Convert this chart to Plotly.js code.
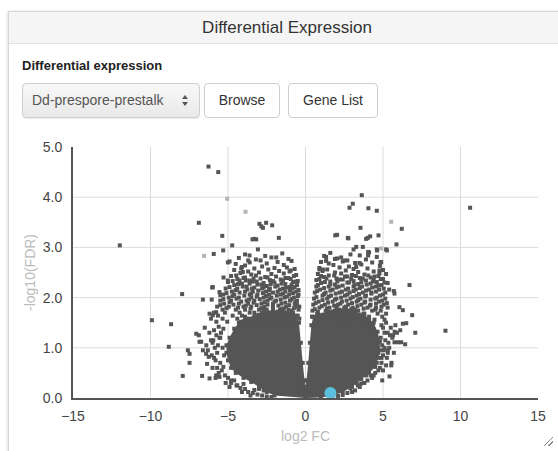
<!DOCTYPE html>
<html>
<head>
<meta charset="utf-8">
<script src="https://cdn.plot.ly/plotly-3.0.1.min.js"></script>
<style>
  html, body { margin:0; padding:0; width:558px; height:451px; overflow:hidden; background:#fff;
    font-family:"Liberation Sans", Arial, Helvetica, sans-serif; }
  #panel { position:absolute; left:8px; top:11px; width:556px; height:460px; border:1px solid #d6d6d6;
    box-shadow:-1px 0 2px rgba(0,0,0,0.12); background:#fff; }
  #hdr { position:absolute; left:0; top:0; right:0; height:31px; background:#f5f5f5; border-bottom:1px solid #e2e2e2;
    text-align:center; line-height:32px; font-size:17px; color:#333; }
  #lbl { position:absolute; left:13px; top:46px; font-size:13px; font-weight:bold; color:#222; }
  #sel { position:absolute; left:13px; top:71px; width:167px; height:33px; border:1px solid #cfcfcf; border-radius:4px;
    background:linear-gradient(#f8f8f8,#e9e9e9); box-shadow:0 1px 1px rgba(0,0,0,0.08);
    font-size:14px; color:#555; line-height:33px; padding-left:9px; }
  #sel .arr { position:absolute; right:9px; top:10px; width:8px; height:14px; }
  #sel .arr i { position:absolute; left:0; width:0; height:0; border-left:3px solid transparent; border-right:3px solid transparent; }
  #sel .arr i.u { top:1px; border-bottom:4px solid #555; }
  #sel .arr i.d { top:8px; border-top:4px solid #555; }
  .btn { position:absolute; top:71px; height:33px; border:1px solid #cfcfcf; border-radius:4px; background:#fff;
    font-size:14px; color:#333; line-height:33px; text-align:center; }
  #b1 { left:195px; width:74px; }
  #b2 { left:279px; width:88px; }
  #plot { position:absolute; left:0; top:0; width:558px; height:451px; }
  #grip { position:absolute; left:544px; top:437px; width:9px; height:9px;
    background:linear-gradient(135deg, transparent 45%, #888 45%, #888 55%, transparent 55%, transparent 70%, #888 70%, #888 80%, transparent 80%); }
</style>
</head>
<body>
<div id="panel">
  <div id="hdr">Differential Expression</div>
  <div id="lbl">Differential expression</div>
  <div id="sel">Dd-prespore-prestalk<span class="arr"><i class="u"></i><i class="d"></i></span></div>
  <div class="btn" id="b1">Browse</div>
  <div class="btn" id="b2">Gene List</div>
</div>
<div id="plot"></div>
<div id="grip"></div>
<script>
// Genes on the edge of the solid core, in outline order (log2 FC / -log10(FDR))
var coreX = [0,-2.0,-2.5,-3.0,-3.5,-4.0,-4.5,-4.8,-5.0,-5.1,-5.1,-4.9,-4.6,-4.3,-3.9,-3.6,-3.3,-3.0,-2.7,-2.4,-2.1,-1.8,-1.5,-1.2,-0.9,-0.6,-0.42,-0.3,-0.18,-0.06,0,
             0.06,0.18,0.28,0.38,0.5,0.8,1.1,1.4,1.7,2.0,2.3,2.6,2.9,3.2,3.5,3.8,4.1,4.4,4.65,4.8,4.8,4.7,4.5,4.1,3.6,3.0,2.4,1.8,1.0,0];
var coreY = [0,0.05,0.12,0.22,0.32,0.4,0.5,0.6,0.75,0.9,1.05,1.2,1.38,1.5,1.62,1.58,1.7,1.66,1.76,1.7,1.78,1.72,1.78,1.7,1.74,1.64,1.5,1.1,0.7,0.35,0.22,
             0.35,0.7,1.1,1.45,1.62,1.72,1.66,1.78,1.72,1.8,1.74,1.8,1.72,1.76,1.66,1.68,1.56,1.5,1.32,1.12,0.95,0.8,0.62,0.5,0.38,0.22,0.12,0.05,0.01,0];

// Speckled band above the left lobe
var bandLX = [
 -3.9,-2.6,-1.5,
 -4.3,-3.2,-2.2,-1.1,
 -3.6,-2.9,-1.8,-0.9,
 -4.5,-3.9,-2.5,-1.4,
 -4.1,-3.3,-2.8,-2.0,-1.2,-0.7,
 -4.6,-3.7,-2.4,-1.7,-0.95,
 -4.2,-3.5,-3.0,-2.2,-1.4,-0.6,
 -4.8,-3.9,-3.2,-2.6,-1.9,-1.1,-0.75,
 -4.4,-3.6,-2.9,-2.3,-1.6,-0.5,
 -5.0,-4.1,-3.4,-2.7,-2.0,-1.3,-0.8,
 -4.6,-3.8,-3.1,-2.5,-1.8,-1.0,-0.55,
 -5.15,-4.4,-3.45,-2.8,-2.3,-1.45,-0.85,
 -4.75,-3.9,-3.4,-2.55,-1.8,-1.3,-0.6,
 -5.3,-4.6,-3.6,-3.1,-2.35,-1.6,-1.05,-0.45,
 -4.95,-4.3,-3.5,-2.7,-2.2,-1.35,-0.75,
 -5.5,-4.8,-3.8,-3.3,-2.45,-1.9,-1.0,-0.55,
 -5.25,-4.3,-3.7,-2.85,-2.1,-1.55,-0.7,
 -5.7,-4.95,-4.0,-3.5,-2.65,-2.1,-1.25,-0.65,-0.4,
 -5.35,-4.5,-3.9,-3.0,-2.5,-1.65,-1.1,-0.45,
 -5.9,-5.2,-4.25,-3.6,-2.8,-2.25,-1.4,-0.8,
 -5.65,-4.7,-4.1,-3.25,-2.7,-1.85,-1.25,-0.5,
 -6.1,-5.35,-4.4,-3.8,-2.95,-2.4,-1.55,-0.95,-0.4,
 -5.75,-5.05,-4.15,-3.6,-2.7,-2.1,-1.3,-0.7,
 // second layer
 -4.0,-3.35,-2.45,-1.3,-0.95,
 -4.7,-3.85,-3.15,-2.1,-1.45,-0.65,
 -4.35,-3.6,-2.85,-2.25,-1.55,-0.9,
 -4.9,-4.05,-3.3,-2.7,-1.95,-1.25,-0.7,
 -4.5,-3.75,-3.05,-2.35,-1.65,-1.0,-0.45,
 -5.1,-4.25,-3.5,-2.75,-2.1,-1.45,-0.8,
 -4.7,-3.95,-3.15,-2.55,-1.85,-1.2,-0.5,
 -5.3,-4.45,-3.65,-2.95,-2.3,-1.6,-0.9,
 -4.9,-4.15,-3.35,-2.65,-2.0,-1.3,-0.65,
 -5.5,-4.65,-3.85,-3.15,-2.45,-1.75,-1.05,-0.55,
 -5.1,-4.35,-3.55,-2.85,-2.1,-1.4,-0.75
];
var bandLY = [
 2.86,2.83,2.88,
 2.79,2.76,2.8,2.77,
 2.7,2.74,2.71,2.73,
 2.67,2.64,2.68,2.65,
 2.61,2.58,2.62,2.59,2.6,2.57,
 2.55,2.52,2.56,2.53,2.54,
 2.49,2.46,2.5,2.47,2.48,2.45,
 2.43,2.4,2.44,2.41,2.42,2.39,2.43,
 2.37,2.34,2.38,2.35,2.36,2.33,
 2.31,2.28,2.32,2.29,2.3,2.27,2.31,
 2.25,2.22,2.26,2.23,2.24,2.21,2.25,
 2.18,2.18,2.18,2.18,2.18,2.18,2.18,
 2.12,2.12,2.12,2.12,2.12,2.12,2.12,
 2.06,2.06,2.06,2.06,2.06,2.06,2.06,2.06,
 2.0,2.0,2.0,2.0,2.0,2.0,2.0,
 1.94,1.94,1.94,1.94,1.94,1.94,1.94,1.94,
 1.88,1.88,1.88,1.88,1.88,1.88,1.88,
 1.82,1.82,1.82,1.82,1.82,1.82,1.82,1.82,1.82,
 1.76,1.76,1.76,1.76,1.76,1.76,1.76,1.76,
 1.7,1.7,1.7,1.7,1.7,1.7,1.7,1.7,
 1.64,1.64,1.64,1.64,1.64,1.64,1.64,1.64,
 1.58,1.58,1.58,1.58,1.58,1.58,1.58,1.58,1.58,
 1.52,1.52,1.52,1.52,1.52,1.52,1.52,1.52,
 2.39,2.38,2.4,2.39,2.37,
 2.33,2.34,2.32,2.33,2.34,2.32,
 2.27,2.28,2.26,2.27,2.28,2.26,
 2.21,2.22,2.2,2.21,2.22,2.2,2.21,
 2.15,2.16,2.14,2.15,2.16,2.14,2.15,
 2.09,2.1,2.08,2.09,2.1,2.08,2.09,
 2.03,2.04,2.02,2.03,2.04,2.02,2.03,
 1.97,1.98,1.96,1.97,1.98,1.96,1.97,
 1.91,1.92,1.9,1.91,1.92,1.9,1.91,
 1.85,1.86,1.84,1.85,1.86,1.84,1.85,1.86,
 1.79,1.8,1.78,1.79,1.8,1.78,1.79
];

// Speckled band above the right lobe
var bandRX = [
 1.6,2.9,4.1,
 1.2,2.3,3.5,4.6,
 1.9,2.7,3.9,
 1.0,1.5,2.4,3.2,4.3,
 1.8,2.8,3.6,4.8,
 0.9,1.4,2.2,3.1,4.0,5.0,
 1.1,1.9,2.6,3.4,4.4,
 0.8,1.5,2.3,3.0,3.8,4.7,5.2,
 1.2,2.0,2.7,3.5,4.2,5.0,
 0.7,1.6,2.4,3.1,3.9,4.6,
 1.0,1.9,2.7,3.4,4.2,4.9,5.3,
 0.7,1.5,2.15,3.1,3.65,4.55,
 0.95,1.75,2.6,3.25,4.1,4.75,5.4,
 0.6,1.3,2.2,2.85,3.7,4.25,5.15,
 1.1,1.65,2.55,3.3,3.9,4.8,
 0.55,1.4,2.0,2.9,3.55,4.5,5.15,
 0.85,1.75,2.35,3.3,3.85,4.75,
 0.5,1.25,2.1,2.75,3.6,4.2,5.05,
 0.9,1.55,2.5,3.05,4.0,4.55,5.3,
 0.45,1.3,1.9,2.8,3.4,4.3,4.85,
 0.75,1.65,2.25,3.2,3.75,4.65,5.2,
 0.42,1.1,2.0,2.65,3.5,4.1,4.95,
 0.8,1.45,2.4,2.95,3.85,4.45,5.1,
 // second layer
 1.0,1.85,2.55,3.25,4.05,4.45,
 0.9,1.35,2.2,2.95,3.7,4.4,4.85,
 1.25,2.05,2.8,3.6,4.35,5.1,
 0.8,1.6,2.4,3.15,3.95,4.7,
 1.2,2.0,2.75,3.5,4.3,5.05,
 0.75,1.6,2.35,3.1,3.9,4.55,
 1.2,1.95,2.7,3.45,4.25,5.0,
 0.7,1.5,2.3,3.05,3.85,4.6,
 1.1,1.9,2.65,3.4,4.2,4.95,
 0.65,1.45,2.25,3.0,3.8,4.55,5.25,
 1.05,1.85,2.6,3.35,4.15,4.9,
 0.6,1.4,2.2,2.95,3.75,4.5
];
var bandRY = [
 2.89,2.86,2.9,
 2.83,2.8,2.84,2.81,
 2.77,2.74,2.76,
 2.71,2.68,2.72,2.69,2.7,
 2.65,2.62,2.66,2.63,
 2.59,2.56,2.6,2.57,2.58,2.55,
 2.53,2.5,2.54,2.51,2.52,
 2.47,2.44,2.48,2.45,2.46,2.43,2.47,
 2.41,2.38,2.42,2.39,2.4,2.37,
 2.35,2.32,2.36,2.33,2.34,2.31,
 2.29,2.26,2.3,2.27,2.28,2.25,2.29,
 2.22,2.22,2.22,2.22,2.22,2.22,
 2.16,2.16,2.16,2.16,2.16,2.16,2.16,
 2.1,2.1,2.1,2.1,2.1,2.1,2.1,
 2.04,2.04,2.04,2.04,2.04,2.04,
 1.98,1.98,1.98,1.98,1.98,1.98,1.98,
 1.92,1.92,1.92,1.92,1.92,1.92,
 1.86,1.86,1.86,1.86,1.86,1.86,1.86,
 1.8,1.8,1.8,1.8,1.8,1.8,1.8,
 1.74,1.74,1.74,1.74,1.74,1.74,1.74,
 1.68,1.68,1.68,1.68,1.68,1.68,1.68,
 1.62,1.62,1.62,1.62,1.62,1.62,1.62,
 1.56,1.56,1.56,1.56,1.56,1.56,1.56,
 2.43,2.44,2.42,2.43,2.44,2.42,
 2.37,2.38,2.36,2.37,2.38,2.36,2.37,
 2.31,2.32,2.3,2.31,2.32,2.3,
 2.25,2.26,2.24,2.25,2.26,2.24,
 2.19,2.2,2.18,2.19,2.2,2.18,
 2.13,2.14,2.12,2.13,2.14,2.12,
 2.07,2.08,2.06,2.07,2.08,2.06,
 2.01,2.02,2.0,2.01,2.02,2.0,
 1.95,1.96,1.94,1.95,1.96,1.94,
 1.89,1.9,1.88,1.89,1.9,1.88,1.89,
 1.83,1.84,1.82,1.83,1.84,1.82,
 1.77,1.78,1.76,1.77,1.78,1.76
];

// Outliers and genes on the sides / bottom edges of the cloud
var geneX = [
 -6.26,-5.63,-6.88,-11.98,-5.37,-4.73,-5.92,-5.31,-2.97,-2.54,-2.75,-2.15,-2.85,-3.42,-3.18,-3.3,-3.07,-1.72,
 -4.9,-5.01,-1.89,-3.61,-3.7,-7.96,-6.62,-6.05,-6.02,-5.55,-5.5,-5.29,-5.01,-4.47,-4.26,-4.15,-4.04,-5.98,
 -9.91,-8.67,-8.82,-7.92,-6.67,-6.19,-7.48,-7.59,-7.48,-7.05,-6.88,-6.73,-6.19,-5.98,-5.76,-6.84,-6.62,-6.41,-6.24,-5.76,-5.55,
 3.63,3.05,2.84,4.06,4.6,10.62,6.21,3.55,1.92,2.04,2.73,4.02,4.17,4.71,5.87,5.2,4.6,3.27,3.1,3.7,4.04,4.04,4.84,6.71,
 1.33,1.33,2.04,2.52,3.48,3.27,0.9,1.12,-1.03,4.77,4.77,2.77,3.91,4.62,5.25,4.88,5.7,
 9.03,7.08,6.88,6.5,6.28,6.11,6.43,6.17,5.96,5.74,5.42,5.2,5.53,5.31,5.31,5.74,6.06,6.28,3.37,3.59,2.9,
 // left side
 -5.3,-5.45,-5.55,-5.6,-5.65,-5.7,-5.75,-5.8,-5.85,-5.9,-5.95,-6.0,-6.05,-6.1,-6.2,-6.3,-6.35,-5.5,-5.4,-5.6,-5.2,
 -5.0,-4.8,-5.8,-6.5,-6.4,-5.15,-4.9,-5.9,-6.0,-5.3,-5.7,-4.8,-4.45,-5.25,-5.35,-5.5,
 // left bottom edge
 -4.4,-4.2,-3.9,-3.7,-3.4,-3.1,-2.8,-2.5,-4.6,-3.3,-4.0,-2.2,-3.55,-4.1,-2.7,-3.0,
 // right side
 4.85,4.9,4.95,5.0,5.05,5.1,5.15,5.2,5.25,5.3,5.35,5.4,5.45,5.5,5.55,5.6,5.65,5.7,5.8,5.9,
 4.7,4.6,4.8,4.5,5.0,4.3,4.9,4.95,5.75,5.1,5.0,4.9,4.7,4.4,
 // right bottom edge
 4.0,3.8,3.5,3.2,2.7,2.4,2.1,4.2,3.0,3.3,3.9
];
var geneY = [
 4.61,4.50,3.49,3.04,3.23,3.04,2.87,2.94,3.47,3.49,3.39,3.44,3.42,3.16,3.16,3.17,2.96,3.19,
 2.72,2.70,2.8,2.84,2.74,2.07,1.96,1.96,2.2,2.11,2.05,2.4,2.34,2.44,2.34,2.58,2.51,2.21,
 1.55,1.47,1.02,0.44,0.44,0.39,0.7,0.95,0.88,1.28,1.25,1.12,1.68,1.65,1.71,1.12,0.95,0.88,0.82,0.45,0.42,
 4.04,3.87,3.79,3.78,3.73,3.79,3.37,3.39,3.24,3.25,3.19,3.19,3.22,3.24,3.06,2.96,2.96,3.01,2.96,3.01,2.91,2.84,2.7,2.25,
 2.81,2.73,2.78,2.74,2.69,2.61,2.56,2.56,2.52,2.54,2.48,3.18,3.17,2.94,2.94,2.71,2.13,
 1.34,1.3,1.65,1.49,1.48,1.35,1.07,1.11,1.11,1.11,0.43,0.65,0.65,0.95,0.9,2.08,1.81,1.75,0.25,0.29,0.19,
 1.38,1.3,1.2,1.42,1.05,0.9,1.25,0.75,1.0,1.35,1.15,0.6,0.85,1.15,1.3,0.95,0.68,0.7,0.55,0.5,0.45,
 0.4,0.3,0.4,1.4,1.05,0.3,0.22,0.8,1.1,0.62,0.6,0.35,0.25,0.85,1.0,1.2,
 0.25,0.2,0.18,0.12,0.1,0.07,0.05,0.03,0.35,0.16,0.28,0.02,0.05,0.12,0.15,0.18,
 1.2,1.45,1.05,1.4,0.95,1.3,1.15,1.5,0.8,1.3,1.1,1.0,1.25,1.4,0.7,1.2,1.25,0.9,1.45,1.3,
 0.9,0.7,0.6,0.5,0.55,0.4,0.8,0.35,1.32,1.0,0.85,0.7,0.55,0.45,
 0.35,0.3,0.22,0.15,0.1,0.06,0.04,0.45,0.12,0.3,0.45
];

// Faded genes
var fadedX = [-5.05,-3.87,-6.54,5.53,4.88];
var fadedY = [3.97,3.71,2.83,3.51,2.98];

// Highlighted gene
var selX = [1.61];
var selY = [0.1];

// Grid positions
var gridX = [-10,-5,0,5,10];
var gridY = [1,2,3,4];

var shapes = [];
gridX.forEach(function(v){ shapes.push({type:'line', layer:'below', xref:'x', yref:'y', x0:v, x1:v, y0:0, y1:5, line:{color:'#dcdcdc', width:1}}); });
gridY.forEach(function(v){ shapes.push({type:'line', layer:'below', xref:'x', yref:'y', x0:-15, x1:15, y0:v, y1:v, line:{color:'#dcdcdc', width:1}}); });

var mk = {symbol:'square', size:4, color:'#555'};
var traces = [
  {x: coreX, y: coreY, type:'scatter', mode:'markers', fill:'toself', fillcolor:'#555', line:{width:0, color:'#555'}, marker:mk, hoverinfo:'skip'},
  {x: bandLX, y: bandLY, type:'scatter', mode:'markers', marker:mk},
  {x: bandRX, y: bandRY, type:'scatter', mode:'markers', marker:mk},
  {x: geneX, y: geneY, type:'scatter', mode:'markers', marker:mk},
  {x: fadedX, y: fadedY, type:'scatter', mode:'markers', marker:{symbol:'square', size:4, color:'#b4b4b4'}},
  {x: selX, y: selY, type:'scatter', mode:'markers', marker:{symbol:'circle', size:12, color:'#5bc0de'}}
];

var layout = {
  width:558, height:451,
  margin:{l:73, r:20, t:147, b:53},
  paper_bgcolor:'rgba(0,0,0,0)', plot_bgcolor:'rgba(0,0,0,0)',
  showlegend:false,
  shapes: shapes,
  font:{family:'"Liberation Sans", Arial, sans-serif', color:'#444', size:14},
  xaxis:{range:[-15,15], dtick:5, tick0:0, showgrid:false, zeroline:false,
         showline:true, linecolor:'#555', linewidth:2, ticks:'outside', ticklen:4, tickcolor:'rgba(0,0,0,0)',
         tickfont:{size:14, color:'#444'},
         title:{text:'log2 FC', font:{size:14, color:'#bbb'}, standoff:8}},
  yaxis:{range:[0,5], dtick:1, tick0:0, tickformat:'.1f', showgrid:false, zeroline:false,
         showline:true, linecolor:'#555', linewidth:2, ticks:'outside', ticklen:6, tickcolor:'rgba(0,0,0,0)',
         tickfont:{size:14, color:'#444'},
         title:{text:'-log10(FDR)', font:{size:14, color:'#bbb'}, standoff:4}}
};
Plotly.newPlot('plot', traces, layout, {displayModeBar:false, staticPlot:true});
</script>
</body>
</html>
